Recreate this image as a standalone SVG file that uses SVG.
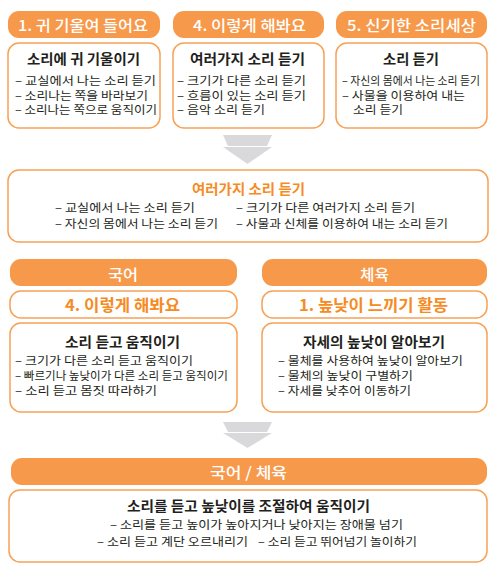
<svg xmlns="http://www.w3.org/2000/svg" width="500" height="576" viewBox="0 0 500 576">
<style>
  text { font-family: "Noto Sans CJK KR", "Noto Sans", sans-serif; }
  .pill { fill: #F7994B; }
  .pt { fill: #ffffff; font-size: 15px; font-weight: 500; }
  .box { fill: #ffffff; stroke: #F7A155; stroke-width: 1.5; }
  .ot { fill: #F68B1F; font-size: 15.5px; font-weight: bold; }
  .tt { fill: #231F20; font-size: 13.5px; font-weight: bold; }
  .ott { fill: #F68B1F; font-size: 13.5px; font-weight: bold; }
  .li { fill: #231F20; font-size: 11.8px; }
  .arrow { fill: #D9D9DB; }
</style>

<g id="connectors">
  <polygon class="arrow" points="223,135 272,135 267,146 228,146"/>
  <polygon class="arrow" points="223,147 272,147 247.5,164"/>
  <polygon class="arrow" points="223,422 272,422 267,432 228,432"/>
  <polygon class="arrow" points="223,433 272,433 247.5,448"/>
</g>

<g id="unit1">
  <rect class="pill" x="8" y="11" width="152" height="27" rx="11"/>
  <text class="pt" x="18" y="30.5" textLength="130" lengthAdjust="spacingAndGlyphs">1. 귀 기울여 들어요</text>
  <rect class="box" x="8" y="43" width="152" height="85" rx="11"/>
  <text class="tt" x="27" y="64" textLength="113" lengthAdjust="spacingAndGlyphs">소리에 귀 기울이기</text>
  <text class="li"><tspan x="15" y="85" textLength="141" lengthAdjust="spacingAndGlyphs">– 교실에서 나는 소리 듣기</tspan><tspan x="15" y="100" textLength="133" lengthAdjust="spacingAndGlyphs">– 소리나는 쪽을 바라보기</tspan><tspan x="15" y="114" textLength="142" lengthAdjust="spacingAndGlyphs">– 소리나는 쪽으로 움직이기</tspan></text>
</g>

<g id="unit4">
  <rect class="pill" x="173" y="11" width="151" height="27" rx="11"/>
  <text class="pt" x="193" y="30.5" textLength="113" lengthAdjust="spacingAndGlyphs">4. 이렇게 해봐요</text>
  <rect class="box" x="173" y="43" width="151" height="85" rx="11"/>
  <text class="tt" x="190" y="64" textLength="115" lengthAdjust="spacingAndGlyphs">여러가지 소리 듣기</text>
  <text class="li"><tspan x="177" y="85" textLength="129" lengthAdjust="spacingAndGlyphs">– 크기가 다른 소리 듣기</tspan><tspan x="177" y="100" textLength="129" lengthAdjust="spacingAndGlyphs">– 흐름이 있는 소리 듣기</tspan><tspan x="177" y="114" textLength="88" lengthAdjust="spacingAndGlyphs">– 음악 소리 듣기</tspan></text>
</g>

<g id="unit5">
  <rect class="pill" x="336" y="11" width="151" height="27" rx="11"/>
  <text class="pt" x="347" y="30.5" textLength="129" lengthAdjust="spacingAndGlyphs">5. 신기한 소리세상</text>
  <rect class="box" x="336" y="43" width="151" height="85" rx="11"/>
  <text class="tt" x="383" y="64" textLength="56" lengthAdjust="spacingAndGlyphs">소리 듣기</text>
  <text class="li"><tspan x="342" y="85" textLength="138" lengthAdjust="spacingAndGlyphs">– 자신의 몸에서 나는 소리 듣기</tspan><tspan x="342" y="100" textLength="123" lengthAdjust="spacingAndGlyphs">– 사물을 이용하여 내는</tspan><tspan x="353" y="114" textLength="50" lengthAdjust="spacingAndGlyphs">소리 듣기</tspan></text>
</g>

<g id="summary">
  <rect class="box" x="8" y="170" width="480" height="72" rx="11"/>
  <text class="ott" x="192" y="194" textLength="113" lengthAdjust="spacingAndGlyphs">여러가지 소리 듣기</text>
  <text class="li"><tspan x="55" y="212" textLength="140" lengthAdjust="spacingAndGlyphs">– 교실에서 나는 소리 듣기</tspan><tspan x="55" y="228" textLength="163" lengthAdjust="spacingAndGlyphs">– 자신의 몸에서 나는 소리 듣기</tspan></text>
  <text class="li"><tspan x="236" y="212" textLength="179" lengthAdjust="spacingAndGlyphs">– 크기가 다른 여러가지 소리 듣기</tspan><tspan x="236" y="228" textLength="212" lengthAdjust="spacingAndGlyphs">– 사물과 신체를 이용하여 내는 소리 듣기</tspan></text>
</g>

<g id="korean">
  <rect class="pill" x="10" y="259" width="227" height="27" rx="11"/>
  <text class="pt" x="108" y="279.5" textLength="30" lengthAdjust="spacingAndGlyphs">국어</text>
  <rect class="box" x="10" y="291" width="227" height="27" rx="11"/>
  <text class="ot" x="65" y="310.5" textLength="115" lengthAdjust="spacingAndGlyphs">4. 이렇게 해봐요</text>
  <rect class="box" x="10" y="323" width="227" height="89" rx="11"/>
  <text class="tt" x="65" y="347" textLength="115" lengthAdjust="spacingAndGlyphs">소리 듣고 움직이기</text>
  <text class="li"><tspan x="15" y="365" textLength="178" lengthAdjust="spacingAndGlyphs">– 크기가 다른 소리 듣고 움직이기</tspan><tspan x="15" y="380" textLength="213" lengthAdjust="spacingAndGlyphs">– 빠르기나 높낮이가 다른 소리 듣고 움직이기</tspan><tspan x="15" y="394.5" textLength="142" lengthAdjust="spacingAndGlyphs">– 소리 듣고 몸짓 따라하기</tspan></text>
</g>

<g id="pe">
  <rect class="pill" x="262" y="259" width="225" height="27" rx="11"/>
  <text class="pt" x="360" y="279.5" textLength="29" lengthAdjust="spacingAndGlyphs">체육</text>
  <rect class="box" x="262" y="291" width="225" height="27" rx="11"/>
  <text class="ot" x="299" y="310.5" textLength="149" lengthAdjust="spacingAndGlyphs">1. 높낮이 느끼기 활동</text>
  <rect class="box" x="262" y="323" width="225" height="89" rx="11"/>
  <text class="tt" x="303" y="347" textLength="142" lengthAdjust="spacingAndGlyphs">자세의 높낮이 알아보기</text>
  <text class="li"><tspan x="278" y="365" textLength="185" lengthAdjust="spacingAndGlyphs">– 물체를 사용하여 높낮이 알아보기</tspan><tspan x="278" y="380" textLength="135" lengthAdjust="spacingAndGlyphs">– 물체의 높낮이 구별하기</tspan><tspan x="278" y="394.5" textLength="133" lengthAdjust="spacingAndGlyphs">– 자세를 낮추어 이동하기</tspan></text>
</g>

<g id="combined">
  <rect class="pill" x="11" y="458" width="476" height="27" rx="11"/>
  <text class="pt" x="210" y="477.5" textLength="77" lengthAdjust="spacingAndGlyphs">국어 / 체육</text>
  <rect class="box" x="9" y="490" width="478" height="72" rx="11"/>
  <text class="tt" x="127" y="511" textLength="243" lengthAdjust="spacingAndGlyphs">소리를 듣고 높낮이를 조절하여 움직이기</text>
  <text class="li"><tspan x="110" y="529" textLength="293" lengthAdjust="spacingAndGlyphs">– 소리를 듣고 높이가 높아지거나 낮아지는 장애물 넘기</tspan><tspan x="97" y="546" textLength="151" lengthAdjust="spacingAndGlyphs">– 소리 듣고 계단 오르내리기</tspan><tspan x="258" y="546" textLength="159" lengthAdjust="spacingAndGlyphs">– 소리 듣고 뛰어넘기 놀이하기</tspan></text>
</g>
</svg>
